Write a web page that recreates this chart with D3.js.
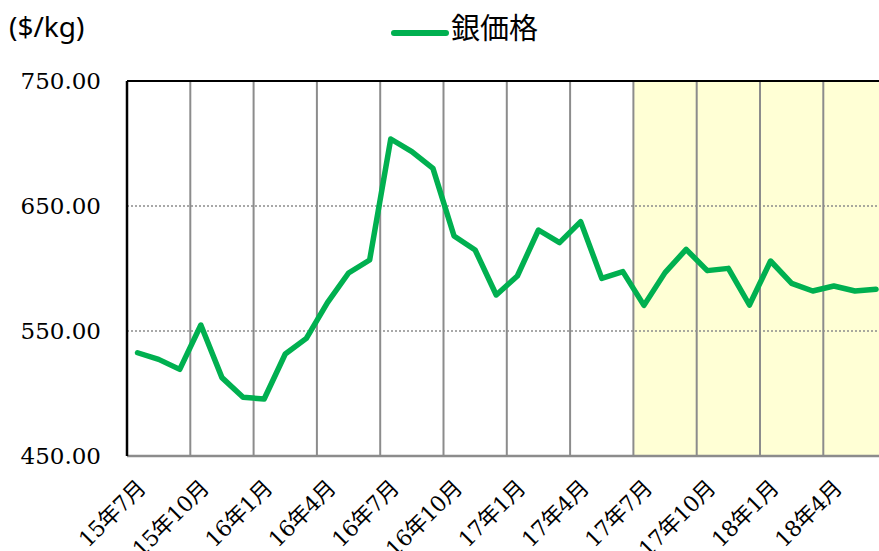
<!DOCTYPE html>
<html>
<head>
<meta charset="utf-8">
<script src="https://cdn.jsdelivr.net/npm/d3@7"></script>
<style>
  body { margin: 0; background: #fff; }
  svg { display: block; }
</style>
</head>
<body>
<div id="chart"></div>
<script>
// months (categories) and silver price values ($/kg)
const months = [
  "15年7月","15年8月","15年9月","15年10月","15年11月","15年12月",
  "16年1月","16年2月","16年3月","16年4月","16年5月","16年6月",
  "16年7月","16年8月","16年9月","16年10月","16年11月","16年12月",
  "17年1月","17年2月","17年3月","17年4月","17年5月","17年6月",
  "17年7月","17年8月","17年9月","17年10月","17年11月","17年12月",
  "18年1月","18年2月","18年3月","18年4月","18年5月","18年6月"
]
const prices = [
  532.6, 527.3, 519.3, 554.8, 512.7, 497.0,
  495.6, 531.6, 544.1, 572.7, 596.4, 606.8,
  703.6, 693.5, 680.1, 626.0, 614.8, 578.8,
  594.0, 630.8, 620.7, 637.5, 592.1, 597.5,
  570.5, 596.7, 615.3, 598.3, 600.1, 570.8,
  606.0, 588.1, 582.0, 586.0, 582.0, 583.4
]
const yTicks = [450, 550, 650, 750]
const gridVals = [550, 650]
const shadeFrom = "17年7月"
const seriesName = "銀価格"
const unitLabel = "($/kg)"

const width = 879, height = 551
const plot = { left: 127, top: 81, bottom: 456 }
const step = 21.1

const svg = d3.select("#chart").append("svg")
  .attr("width", width)
  .attr("height", height)

const x = d3.scaleBand()
  .domain(months)
  .range([plot.left, plot.left + step * months.length])

const y = d3.scaleLinear()
  .domain([450, 750])
  .range([plot.bottom, plot.top])

// shaded area from 17年7月 on
svg.append("rect")
  .attr("x", x(shadeFrom))
  .attr("y", y(750))
  .attr("width", x.range()[1] - x(shadeFrom))
  .attr("height", y(450) - y(750))
  .attr("fill", "#ffffd5")

// vertical lines every 3 months (between categories)
const quarterMonths = months.filter((d, i) => i % 3 === 0 && i > 0)
svg.selectAll(".vgrid")
  .data(quarterMonths)
  .join("line")
  .attr("x1", d => x(d))
  .attr("x2", d => x(d))
  .attr("y1", y(750))
  .attr("y2", y(450))
  .attr("stroke", "#8c8c8c")
  .attr("stroke-width", 2)

// dotted horizontal gridlines
svg.selectAll(".hgrid")
  .data(gridVals)
  .join("line")
  .attr("x1", plot.left)
  .attr("x2", width)
  .attr("y1", d => y(d))
  .attr("y2", d => y(d))
  .attr("stroke", "#8c8c8c")
  .attr("stroke-width", 1.5)
  .attr("stroke-dasharray", "2,2")

// top border
svg.append("line")
  .attr("x1", plot.left).attr("x2", width)
  .attr("y1", y(750)).attr("y2", y(750))
  .attr("stroke", "#000").attr("stroke-width", 2)

// bottom axis line
svg.append("line")
  .attr("x1", plot.left).attr("x2", width)
  .attr("y1", y(450)).attr("y2", y(450))
  .attr("stroke", "#8c8c8c").attr("stroke-width", 2.5)

// left axis
svg.append("line")
  .attr("x1", plot.left).attr("x2", plot.left)
  .attr("y1", y(750)).attr("y2", y(450))
  .attr("stroke", "#000").attr("stroke-width", 2.5)

// y tick labels
svg.selectAll(".ylab")
  .data(yTicks)
  .join("text")
  .attr("x", 101)
  .attr("y", d => y(d))
  .attr("dy", "0.35em")
  .attr("text-anchor", "end")
  .style("font-family", "'DejaVu Serif', serif")
  .style("font-size", "23px")
  .attr("fill", "#000")
  .text(d => d.toFixed(2))

// x tick labels (every 3 months, rotated)
const labelMonths = months.filter((d, i) => i % 3 === 0)
svg.selectAll(".xlab")
  .data(labelMonths)
  .join("text")
  .attr("transform", d => `translate(${x(d) + x.bandwidth() / 2 + 4},${plot.bottom + 28}) rotate(-45)`)
  .attr("text-anchor", "end")
  .attr("dy", "0.35em")
  .style("font-family", "'DejaVu Serif', 'Noto Sans CJK JP', serif")
  .style("font-size", "22px")
  .style("letter-spacing", "-0.5px")
  .attr("fill", "#000")
  .text(d => d)

// price line
const line = d3.line()
  .x((d, i) => x(months[i]) + x.bandwidth() / 2)
  .y(d => y(d))

svg.append("path")
  .datum(prices)
  .attr("d", line)
  .attr("fill", "none")
  .attr("stroke", "#00b050")
  .attr("stroke-width", 5.5)
  .attr("stroke-linejoin", "round")
  .attr("stroke-linecap", "round")

// legend
svg.append("line")
  .attr("x1", 394).attr("x2", 446)
  .attr("y1", 33).attr("y2", 33)
  .attr("stroke", "#00b050")
  .attr("stroke-width", 6)
  .attr("stroke-linecap", "round")

svg.append("text")
  .attr("x", 451)
  .attr("y", 29)
  .attr("dy", "0.35em")
  .style("font-family", "'Noto Sans CJK JP', sans-serif")
  .style("font-size", "29px")
  .attr("fill", "#000")
  .text(seriesName)

// unit label
svg.append("text")
  .attr("x", 9)
  .attr("y", 27)
  .attr("dy", "0.35em")
  .style("font-family", "'Noto Sans', sans-serif")
  .style("font-size", "28px")
  .attr("fill", "#000")
  .text(unitLabel)
</script>
</body>
</html>
